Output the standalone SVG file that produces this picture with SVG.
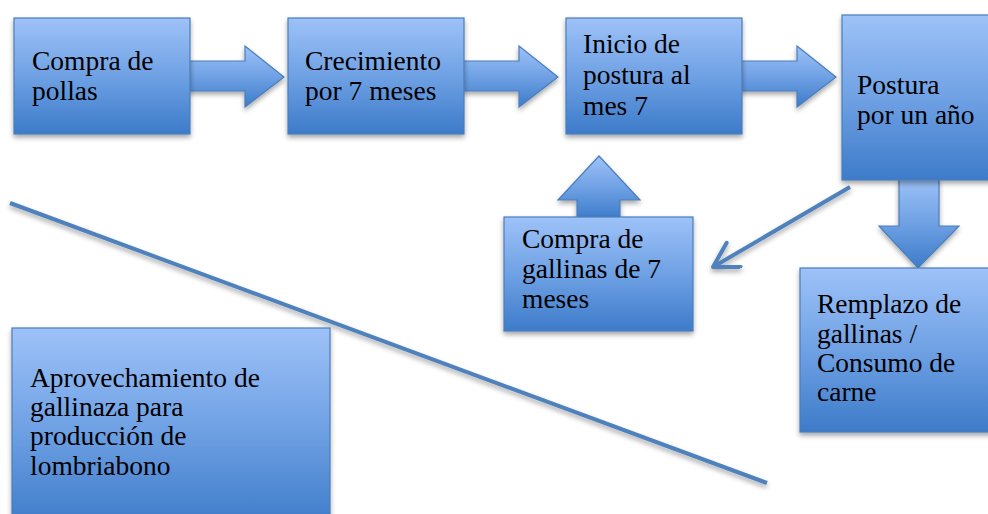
<svg xmlns="http://www.w3.org/2000/svg" width="988" height="514" viewBox="0 0 988 514">
<defs>
<linearGradient id="g" x1="0" y1="0" x2="0" y2="1">
<stop offset="0" stop-color="#9ec2f8"/>
<stop offset="0.5" stop-color="#6fa1e4"/>
<stop offset="1" stop-color="#3d7bc9"/>
</linearGradient>
<filter id="sh" x="-10%" y="-10%" width="130%" height="130%">
<feDropShadow dx="0" dy="3" stdDeviation="2.5" flood-color="#000" flood-opacity="0.35"/>
</filter>
<marker id="open" markerUnits="userSpaceOnUse" markerWidth="32" markerHeight="32" refX="28" refY="15" orient="auto">
<path d="M4,1 L28,15 L4,29" fill="none" stroke="#4f81bd" stroke-width="4" stroke-linecap="round" stroke-linejoin="round"/>
</marker>
<style>
.box{fill:url(#g);stroke:#4a7ebb;stroke-width:1.2;filter:url(#sh)}
.blk{fill:url(#g);stroke:#4a7ebb;stroke-width:1.2;filter:url(#sh)}
.t{font-family:"Liberation Serif","DejaVu Serif",serif;font-size:27.5px;fill:#000}
.ln{stroke:#4f81bd;stroke-width:4;fill:none;filter:url(#sh)}
</style>
</defs>
<rect width="988" height="514" fill="#fff"/>
<g id="connectors">
<path class="blk" d="M188,61 H245 V46 L284,77 L245,107 V91 H188 Z"/>
<path class="blk" d="M462,61 H519 V46 L558,77 L519,107 V91 H462 Z"/>
<path class="blk" d="M740,61 H797 V46 L836,77 L797,107 V91 H740 Z"/>
<path class="blk" d="M899,178 V226 H879 L918,268 L959,226 H939 V178 Z"/>
<path class="blk" d="M577,219 V200 H558 L599,156 L640,200 H620 V219 Z"/>
<line class="ln" x1="850" y1="187" x2="713" y2="267" marker-end="url(#open)"/>
<line class="ln" x1="10" y1="203" x2="767" y2="483"/>
</g>
<g id="n1">
<rect class="box" x="14" y="18" width="176" height="116"/>
<text class="t" x="32" y="70">Compra de</text>
<text class="t" x="32" y="100">pollas</text>
</g>
<g id="n2">
<rect class="box" x="288" y="18" width="176" height="116"/>
<text class="t" x="305" y="70">Crecimiento</text>
<text class="t" x="305" y="100">por 7 meses</text>
</g>
<g id="n3">
<rect class="box" x="566" y="18" width="176" height="116"/>
<text class="t" x="583" y="53">Inicio de</text>
<text class="t" x="583" y="84">postura al</text>
<text class="t" x="583" y="115">mes 7</text>
</g>
<g id="n4">
<rect class="box" x="842" y="15" width="152" height="165"/>
<text class="t" x="857" y="94">Postura</text>
<text class="t" x="857" y="124">por un año</text>
</g>
<g id="n5">
<rect class="box" x="800" y="268" width="194" height="164"/>
<text class="t" x="817" y="313">Remplazo de</text>
<text class="t" x="817" y="343">gallinas /</text>
<text class="t" x="817" y="372">Consumo de</text>
<text class="t" x="817" y="401">carne</text>
</g>
<g id="n6">
<rect class="box" x="504" y="217" width="189" height="114"/>
<text class="t" x="522" y="248">Compra de</text>
<text class="t" x="522" y="278">gallinas de 7</text>
<text class="t" x="522" y="308">meses</text>
</g>
<g id="n7">
<rect class="box" x="12" y="328" width="318" height="200"/>
<text class="t" x="30" y="387">Aprovechamiento de</text>
<text class="t" x="30" y="416">gallinaza para</text>
<text class="t" x="30" y="445">producción de</text>
<text class="t" x="30" y="475">lombriabono</text>
</g>
</svg>
